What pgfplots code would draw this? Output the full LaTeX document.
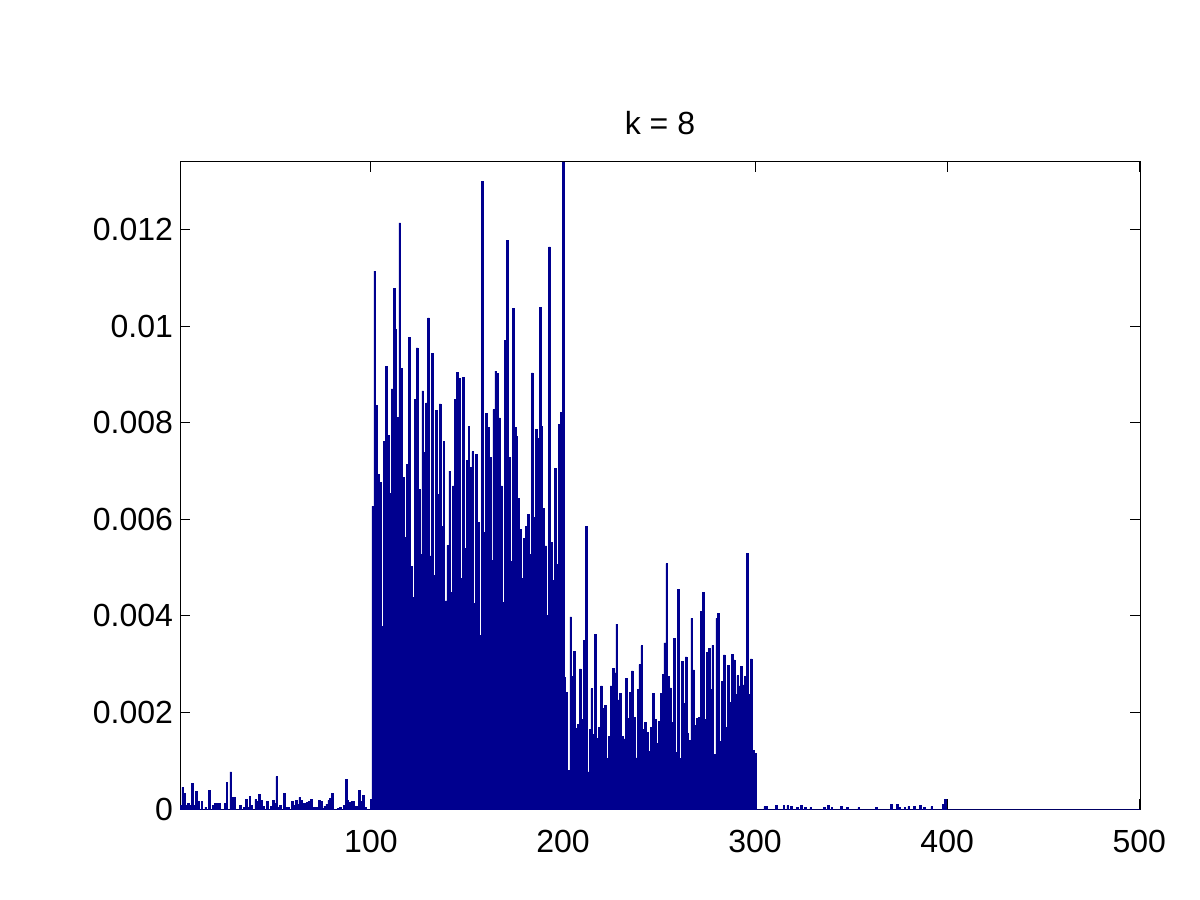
\documentclass[border=0pt]{standalone}
\usepackage{fontspec}
\setmainfont{Liberation Sans}
\usepackage{pgfplots}
\pgfplotsset{compat=1.18}
\definecolor{mblue}{RGB}{0,0,143}
\begin{document}
\begin{tikzpicture}[x=1pt,y=1pt]
\path[use as bounding box] (0,0) rectangle (600,450);
\begin{axis}[
  at={(90pt,45.5pt)}, anchor=south west,
  scale only axis, width=480pt, height=323.5pt,
  xmin=0.6, xmax=500.4, ymin=0, ymax=0.0134,
  xtick={100,200,300,400,500}, xticklabels={100,200,300,400,500},
  ytick={0,0.002,0.004,0.006,0.008,0.01,0.012},
  yticklabels={0,0.002,0.004,0.006,0.008,0.01,0.012},
  scaled y ticks=false, scaled x ticks=false,
  tick align=inside, major tick length=5pt,
  tick style={black, line width=0.5pt},
  axis line style={line width=0.5pt},
  ticklabel style={font=\fontsize{16}{19}\selectfont},
  xticklabel style={yshift=-7pt},
  title={k = 8},
  title style={font=\fontsize{16}{19}\selectfont, at={(0.5,1)}, anchor=base, yshift=7.5pt},
]
\addplot[ybar, bar width=0.9, fill=mblue, draw=mblue, line width=0.3pt] coordinates {
(1,0.00008)(2,0.00045)(3,0.00033)(4,0.00008)(5,0.00012)(6,0.00008)(7,0.00053)(8,0.00008)(9,0.00037)(10,0.00016)
(11,0)(12,0.00016)(13,0)(14,0.00004)(15,0)(16,0.00039)(17,0)(18,0.00008)(19,0.00012)(20,0.00012)
(21,0.00012)(22,0)(23,0)(24,0.00012)(25,0.00055)(26,0)(27,0.00077)(28,0.00024)(29,0.00024)(30,0)
(31,0)(32,0.00008)(33,0)(34,0.00004)(35,0.00020)(36,0.00004)(37,0.00026)(38,0.00008)(39,0)(40,0.00020)
(41,0.00016)(42,0.00030)(43,0.00018)(44,0.00006)(45,0)(46,0.00016)(47,0)(48,0.00006)(49,0.00018)(50,0.00012)
(51,0.00067)(52,0.00004)(53,0.00008)(54,0)(55,0.00033)(56,0.00004)(57,0.00004)(58,0)(59,0.00016)(60,0.00008)
(61,0.00018)(62,0.00010)(63,0.00024)(64,0.00018)(65,0.00012)(66,0.00012)(67,0.00014)(68,0.00016)(69,0.00020)(70,0.00004)
(71,0.00004)(72,0.00004)(73,0.00018)(74,0.00016)(75,0.00002)(76,0.00006)(77,0.00010)(78,0.00018)(79,0.00022)(80,0.00033)
(81,0)(82,0)(83,0.00002)(84,0.00004)(85,0)(86,0.00008)(87,0.00061)(88,0.00018)(89,0.00014)(90,0.00016)
(91,0.00016)(92,0.00006)(93,0.00006)(94,0.00039)(95,0.00016)(96,0.00028)(97,0.00004)(98,0)(99,0)(100,0.00020)
(101,0.00627)(102,0.01114)(103,0.00836)(104,0.00693)(105,0.00677)(106,0.00378)(107,0.00761)(108,0.00916)(109,0.00774)(110,0.00653)
(111,0.00870)(112,0.01078)(113,0.00993)(114,0.00811)(115,0.01214)(116,0.00913)(117,0.00687)(118,0.00562)(119,0.00714)(120,0.00977)
(121,0.00503)(122,0.00438)(123,0.00849)(124,0.00955)(125,0.00662)(126,0.00527)(127,0.00866)(128,0.00739)(129,0.00841)(130,0.01017)
(131,0.00524)(132,0.00944)(133,0.00483)(134,0.00825)(135,0.00652)(136,0.00839)(137,0.00586)(138,0.00761)(139,0.00431)(140,0.00546)
(141,0.00700)(142,0.00448)(143,0.00669)(144,0.00849)(145,0.00904)(146,0.00892)(147,0.00477)(148,0.00894)(149,0.00540)(150,0.00722)
(151,0.00792)(152,0.00707)(153,0.00740)(154,0.00425)(155,0.00734)(156,0.00594)(157,0.00359)(158,0.01300)(159,0.00573)(160,0.00819)
(161,0.00790)(162,0.00729)(163,0.00515)(164,0.00827)(165,0.00907)(166,0.00902)(167,0.00810)(168,0.00669)(169,0.00428)(170,0.00970)
(171,0.01178)(172,0.00729)(173,0.00512)(174,0.01036)(175,0.00790)(176,0.00772)(177,0.00644)(178,0.00579)(179,0.00478)(180,0.00561)
(181,0.00586)(182,0.00610)(183,0.00527)(184,0.00903)(185,0.00604)(186,0.00786)(187,0.00768)(188,0.01039)(189,0.00792)(190,0.00622)
(191,0.00545)(192,0.00401)(193,0.01164)(194,0.00552)(195,0.00473)(196,0.00705)(197,0.00506)(198,0.00797)(199,0.00821)(200,0.01340)
(201,0.00273)(202,0.00242)(203,0.00080)(204,0.00398)(205,0.00275)(206,0.00327)(207,0.00167)(208,0.00175)(209,0.00290)(210,0.00185)
(211,0.00350)(212,0.00585)(213,0.00077)(214,0.00165)(215,0.00249)(216,0.00155)(217,0.00362)(218,0.00147)(219,0.00169)(220,0.00255)
(221,0.00209)(222,0.00214)(223,0.00104)(224,0.00150)(225,0.00255)(226,0.00292)(227,0.00282)(228,0.00383)(229,0.00226)(230,0.00239)
(231,0.00150)(232,0.00145)(233,0.00270)(234,0.00187)(235,0.00241)(236,0.00286)(237,0.00189)(238,0.00106)(239,0.00247)(240,0.00299)
(241,0.00338)(242,0.00165)(243,0.00179)(244,0.00159)(245,0.00119)(246,0.00169)(247,0.00239)(248,0.00185)(249,0.00136)(250,0.00181)
(251,0.00239)(252,0.00278)(253,0.00344)(254,0.00508)(255,0.00274)(256,0.00251)(257,0.00179)(258,0.00354)(259,0.00117)(260,0.00455)
(261,0.00105)(262,0.00306)(263,0.00218)(264,0.00315)(265,0.00156)(266,0.00142)(267,0.00395)(268,0.00288)(269,0.00173)(270,0.00187)
(271,0.00189)(272,0.00409)(273,0.00449)(274,0.00185)(275,0.00325)(276,0.00333)(277,0.00247)(278,0.00339)(279,0.00113)(280,0.00395)
(281,0.00405)(282,0.00140)(283,0.00265)(284,0.00319)(285,0.00169)(286,0.00298)(287,0.00220)(288,0.00321)(289,0.00309)(290,0.00237)
(291,0.00276)(292,0.00255)(293,0.00296)(294,0.00257)(295,0.00274)(296,0.00529)(297,0.00237)(298,0.00311)(299,0.00121)(300,0.00115)
(301,0)(302,0)(303,0)(304,0)(305,0.00005)(306,0.00005)(307,0)(308,0)(309,0)(310,0)
(311,0.00007)(312,0)(313,0)(314,0)(315,0.00007)(316,0)(317,0.00007)(318,0)(319,0.00005)(320,0)
(321,0)(322,0.00003)(323,0)(324,0.00007)(325,0)(326,0.00003)(327,0)(328,0)(329,0.00003)(330,0)
(331,0)(332,0)(333,0)(334,0)(335,0)(336,0.00003)(337,0)(338,0.00007)(339,0)(340,0.00003)
(341,0)(342,0)(343,0)(344,0)(345,0.00005)(346,0)(347,0)(348,0.00003)(349,0)(350,0)
(351,0)(352,0)(353,0)(354,0.00003)(355,0)(356,0)(357,0)(358,0)(359,0)(360,0)
(361,0)(362,0)(363,0.00003)(364,0)(365,0)(366,0)(367,0)(368,0)(369,0)(370,0)
(371,0.0001)(372,0)(373,0)(374,0.0001)(375,0.00003)(376,0)(377,0)(378,0.00003)(379,0)(380,0.00005)
(381,0)(382,0)(383,0.00005)(384,0)(385,0)(386,0.00007)(387,0)(388,0.00003)(389,0)(390,0)
(391,0)(392,0.00005)(393,0)(394,0)(395,0)(396,0)(397,0)(398,0.0001)(399,0.0002)(400,0)
(401,0)(402,0)(403,0)(404,0)(405,0)(406,0)(407,0)(408,0)(409,0)(410,0)
(411,0)(412,0)(413,0)(414,0)(415,0)(416,0)(417,0)(418,0)(419,0)(420,0)
(421,0)(422,0)(423,0)(424,0)(425,0)(426,0)(427,0)(428,0)(429,0)(430,0)
(431,0)(432,0)(433,0)(434,0)(435,0)(436,0)(437,0)(438,0)(439,0)(440,0)
(441,0)(442,0)(443,0)(444,0)(445,0)(446,0)(447,0)(448,0)(449,0)(450,0)
(451,0)(452,0)(453,0)(454,0)(455,0)(456,0)(457,0)(458,0)(459,0)(460,0)
(461,0)(462,0)(463,0)(464,0)(465,0)(466,0)(467,0)(468,0)(469,0)(470,0)
(471,0)(472,0)(473,0)(474,0)(475,0)(476,0)(477,0)(478,0)(479,0)(480,0)
(481,0)(482,0)(483,0)(484,0)(485,0)(486,0)(487,0)(488,0)(489,0)(490,0)
(491,0)(492,0)(493,0)(494,0)(495,0)(496,0)(497,0)(498,0)(499,0)(500,0)
};
\end{axis}
\end{tikzpicture}
\end{document}
